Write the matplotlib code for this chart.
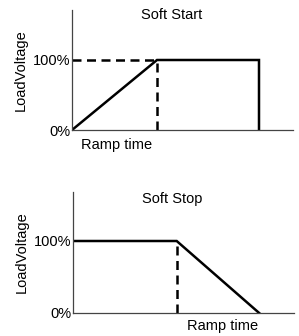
import matplotlib
matplotlib.use("Agg")
import matplotlib.pyplot as plt

plt.rcParams['font.family'] = ['Liberation Sans', 'DejaVu Sans']

# ── Datos ────────────────────────────────────────────────────────────────
start_t = [0, 1.0, 2.2, 2.2]
start_v = [0, 100, 100, 0]
start_ramp = 1.0

stop_t = [0, 1.22, 2.19]
stop_v = [100, 100, 0]
stop_ramp = 1.22

yticks = [0, 100]
ytick_labels = ['0%', '100%']

W, H = 299, 336
fig = plt.figure(figsize=(W / 100, H / 100), dpi=100)


def axes_px(left, right, top, bottom):
    return fig.add_axes([left / W, 1 - bottom / H, (right - left) / W, (bottom - top) / H])


def estilo(ax, ylim_top, xlim_right):
    ax.set_xlim(0, xlim_right)
    ax.set_ylim(0, ylim_top)
    for s in ['top', 'right']:
        ax.spines[s].set_visible(False)
    for s in ['left', 'bottom']:
        ax.spines[s].set_color('#444444')
        ax.spines[s].set_linewidth(0.9)
    ax.set_xticks([])
    ax.set_yticks(yticks)
    ax.set_yticklabels(ytick_labels, fontsize=10.5)
    ax.tick_params(axis='y', length=0, pad=1)
    ax.set_ylabel('LoadVoltage', fontsize=10.5, labelpad=4)
    ax.patch.set_alpha(0)


guion = (0, (3.6, 2.2))

# ── Soft Start ──
ax1 = axes_px(72, 293, 10, 130)
estilo(ax1, 100 * 120 / 70, 221 / 85)
ax1.plot(start_t, start_v, color='black', lw=1.8, solid_joinstyle='miter')
ax1.plot([0, start_ramp], [100, 100], color='black', lw=1.8, ls=guion)
ax1.plot([start_ramp, start_ramp], [0, 100], color='black', lw=1.8, ls=guion)
ax1.text(0.45, 0.958, 'Soft Start', fontsize=10.5, ha='center', va='center',
         transform=ax1.transAxes)
ax1.text(start_ramp / 2 + 0.02, -0.125, 'Ramp time', fontsize=10.5, ha='center', va='center',
         transform=ax1.get_xaxis_transform())

# ── Soft Stop ──
ax2 = axes_px(73, 294, 192, 313)
estilo(ax2, 100 * 121 / 72, 221 / 85)
ax2.plot(stop_t, stop_v, color='black', lw=1.8, solid_joinstyle='miter')
ax2.plot([stop_ramp, stop_ramp], [0, 100], color='black', lw=1.8, ls=guion)
ax2.text(0.45, 0.942, 'Soft Stop', fontsize=10.5, ha='center', va='center',
         transform=ax2.transAxes)
ax2.text((stop_t[1] + stop_t[2]) / 2 + 0.05, -0.107, 'Ramp time', fontsize=10.5,
         ha='center', va='center', transform=ax2.get_xaxis_transform())

plt.savefig('out.png', dpi=100)
